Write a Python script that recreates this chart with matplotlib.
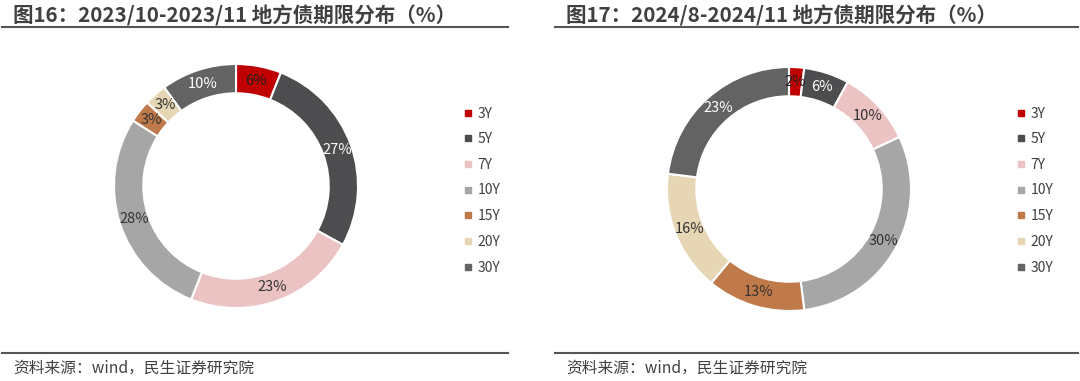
import matplotlib.pyplot as plt
from matplotlib.lines import Line2D

plt.rcParams['font.family'] = ['Noto Sans CJK SC', 'DejaVu Sans']

# data
terms = ['3Y', '5Y', '7Y', '10Y', '15Y', '20Y', '30Y']
share_2023 = [6, 27, 23, 28, 3, 3, 10]
share_2024 = [2, 6, 10, 30, 13, 16, 23]
titles = ['图16：2023/10-2023/11 地方债期限分布（%）',
          '图17：2024/8-2024/11 地方债期限分布（%）']
source = '资料来源：wind，民生证券研究院'

colors = ['#C00000', '#4D4D4F', '#EBC3C3', '#A6A6A6', '#C07A4A', '#E6D6B4', '#636363']
label_colors_2023 = ['#222222', 'white', '#333333', '#333333', '#333333', '#333333', 'white']
label_colors_2024 = ['#222222', 'white', '#333333', '#333333', '#333333', '#333333', 'white']

W, H = 1080, 381
fig = plt.figure(figsize=(W / 100, H / 100), dpi=100)
txt = '#404040'


def px(x, y):
    return x / W, 1 - y / H


panels = [
    dict(data=share_2023, lc=label_colors_2023, cx=236, cy=186, r=122,
         title_x=13, line=(2, 508), leg_x=451, src_x=13),
    dict(data=share_2024, lc=label_colors_2024, cx=789, cy=189, r=122,
         title_x=566, line=(555, 1078), leg_x=1004, src_x=566),
]

for i, p in enumerate(panels):
    r = p['r']
    ax = fig.add_axes([(p['cx'] - r) / W, (H - p['cy'] - r) / H, 2 * r / W, 2 * r / H])
    wedges, _, autotexts = ax.pie(
        p['data'], colors=colors, startangle=90, counterclock=False,
        autopct='%.0f%%', pctdistance=0.88,
        wedgeprops=dict(width=0.24, edgecolor='white', linewidth=1.5),
        textprops=dict(fontsize=10.5))
    for t, c in zip(autotexts, p['lc']):
        t.set_color(c)
    ax.set_xlim(-1, 1)
    ax.set_ylim(-1, 1)
    ax.set_aspect('auto')
    ax.axis('off')

    # title and rules
    fig.text(*px(p['title_x'], 16), titles[i], fontsize=14.8, fontweight='bold',
             color=txt, va='center', ha='left')
    x0, x1 = p['line']
    for y in (27, 353):
        fig.add_artist(Line2D([x0 / W, x1 / W], [1 - y / H, 1 - y / H],
                              color='#555555', lw=1.5, transform=fig.transFigure))
    fig.text(*px(p['src_x'], 368), source, fontsize=11.3, color=txt,
             va='center', ha='left')

    # legend
    handles = [Line2D([], [], marker='s', ls='', color=c, markersize=5) for c in colors]
    fig.legend(handles, terms, loc='upper left',
               bbox_to_anchor=px(p['leg_x'], 94), frameon=False,
               fontsize=10, handlelength=0.6, handletextpad=0.4,
               labelspacing=0.84, labelcolor=txt)

fig.savefig('out.png', dpi=100)
